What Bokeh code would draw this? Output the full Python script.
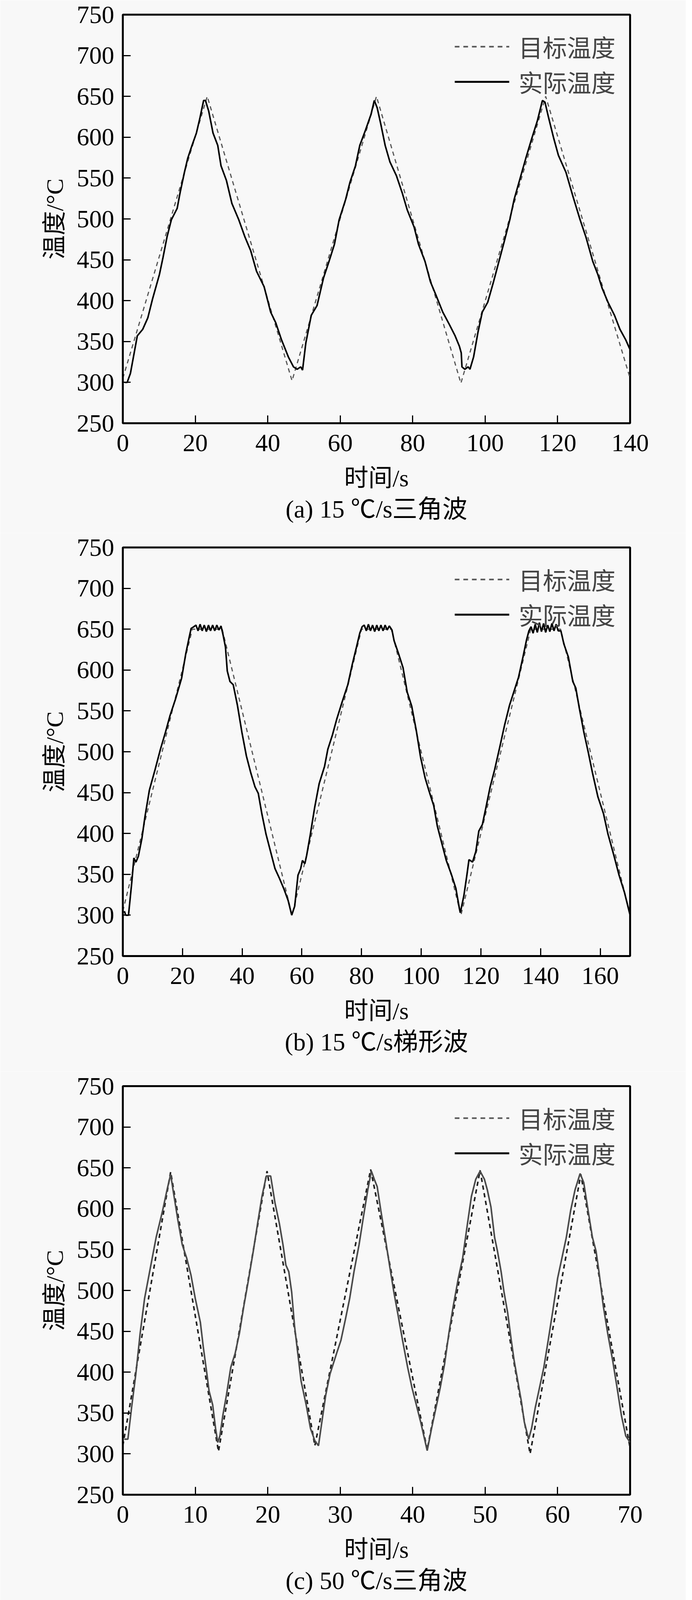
from bokeh.plotting import figure
from bokeh.layouts import column
from bokeh.models import Range1d, FixedTicker, Legend, LegendItem, Title
from bokeh.embed import file_html
from bokeh.resources import INLINE

# ---------------- data ----------------
y_ticks = [250, 300, 350, 400, 450, 500, 550, 600, 650, 700, 750]
legend_labels = ["目标温度", "实际温度"]
x_title = "时间/s"
y_title = "温度/°C"

# (a) 15 ℃/s triangle
xticks_a = [0, 20, 40, 60, 80, 100, 120, 140]
target_a = [(0, 305), (23.3, 650), (46.7, 302), (70.0, 650), (93.3, 299), (116.7, 650), (140, 305)]
actual_a = [(0.5, 300), (1.2, 300), (2.1, 311), (4.0, 357), (5.5, 365), (6.9, 379), (8.2, 402),
            (10.1, 432), (11.1, 453), (12.2, 478), (13.4, 499), (15.0, 513), (15.8, 532), (17.0, 557),
            (17.9, 574), (19.1, 590), (20.3, 605), (21.3, 624), (22.3, 645), (22.8, 645), (23.7, 632),
            (24.9, 605), (26.2, 590), (27.1, 565), (28.6, 547), (30.1, 519), (32.0, 499), (33.7, 478),
            (35.3, 461), (36.9, 436), (39.0, 417), (40.8, 386), (42.2, 373), (43.8, 352), (45.7, 331),
            (47.1, 319), (48.1, 316), (49.1, 319), (49.6, 315), (50.5, 348), (52.0, 382), (53.6, 394),
            (55.4, 428), (56.9, 448), (58.4, 469), (59.7, 499), (61.5, 524), (62.7, 545), (64.2, 565),
            (65.4, 590), (67.0, 609), (68.5, 628), (69.4, 645), (70.2, 636), (71.2, 616), (72.4, 590),
            (73.7, 570), (75.5, 553), (77.1, 532), (78.5, 511), (80.4, 490), (81.6, 469), (83.4, 448),
            (84.9, 423), (86.4, 407), (88.3, 386), (90.1, 371), (91.7, 357), (92.9, 344), (93.4, 336),
            (93.6, 319), (94.4, 316), (95.3, 319), (95.8, 316), (96.8, 331), (98.0, 361), (99.2, 386),
            (100.7, 398), (102.3, 423), (103.8, 448), (105.3, 473), (106.8, 499), (108.0, 524),
            (109.6, 549), (111.2, 574), (112.9, 599), (114.4, 620), (115.8, 645), (116.5, 643),
            (117.5, 624), (118.9, 599), (120.2, 578), (122.3, 557), (124.2, 528), (126.2, 499),
            (127.8, 478), (129.7, 448), (131.1, 432), (132.3, 415), (133.9, 398), (135.7, 382),
            (137.2, 365), (138.8, 352), (140.0, 340)]

# (b) 15 ℃/s trapezoid
xticks_b = [0, 20, 40, 60, 80, 100, 120, 140, 160]
target_b = [(0, 305), (23.3, 650), (33.3, 650), (56.7, 300), (80.0, 650), (90.0, 650),
            (113.3, 300), (136.7, 650), (146.7, 650), (170, 300)]
actual_b = [(0.5, 305), (1.0, 300), (1.9, 300), (3.0, 340), (3.7, 370), (4.4, 365), (5.2, 372),
            (6.4, 394), (7.4, 420), (8.9, 453), (10.8, 478), (12.6, 503), (14.3, 524), (15.8, 544),
            (17.7, 565), (19.7, 590), (21.1, 620), (22.3, 641), (22.9, 651), (23.8, 653), (24.5, 655),
            (25.2, 648), (25.9, 656), (26.6, 648), (27.3, 655), (28.0, 647), (28.7, 655), (29.4, 648),
            (30.1, 655), (30.8, 648), (31.5, 655), (32.2, 649), (32.9, 654), (33.6, 643), (34.4, 628),
            (35.0, 599), (35.9, 586), (37.0, 582), (38.4, 557), (39.9, 524), (41.4, 495), (42.9, 474),
            (44.3, 457), (45.4, 449), (46.6, 424), (48.0, 399), (49.5, 378), (51.0, 357), (52.5, 345),
            (54.0, 332), (55.4, 318), (56.6, 300), (57.6, 311), (58.7, 349), (59.6, 357), (60.2, 367),
            (61.0, 363), (61.6, 373), (62.8, 398), (64.3, 432), (65.8, 461), (67.6, 482), (68.7, 503),
            (70.2, 520), (71.7, 540), (73.5, 561), (75.4, 582), (76.9, 607), (78.3, 628), (79.4, 645),
            (80.2, 653), (80.9, 655), (81.6, 648), (82.3, 656), (83.0, 648), (83.7, 655), (84.4, 647),
            (85.1, 655), (85.8, 648), (86.5, 655), (87.2, 648), (87.9, 655), (88.6, 649), (89.3, 654),
            (90.2, 649), (90.9, 636), (92.4, 620), (93.9, 603), (95.3, 573), (96.8, 556), (98.3, 527),
            (99.8, 493), (101.3, 468), (102.7, 451), (104.2, 434), (105.4, 409), (106.9, 388),
            (108.4, 367), (110.1, 350), (111.6, 333), (112.8, 308), (113.1, 303), (114.3, 324),
            (115.3, 349), (116.0, 368), (117.2, 365), (118.3, 378), (119.3, 403), (120.5, 411),
            (121.7, 432), (123.1, 457), (124.6, 478), (126.4, 507), (127.9, 532), (129.6, 557),
            (131.1, 574), (132.6, 591), (134.1, 616), (135.3, 637), (136.1, 648), (136.8, 653),
            (137.5, 645), (138.2, 656), (138.9, 646), (139.6, 658), (140.3, 647), (141.0, 657),
            (141.7, 646), (142.4, 655), (143.1, 647), (143.8, 657), (144.5, 648), (145.2, 656),
            (145.9, 648), (146.8, 648), (147.8, 632), (149.3, 616), (150.8, 586), (151.8, 578),
            (153.0, 553), (154.5, 524), (156.0, 499), (157.4, 474), (159.2, 445), (161.1, 424),
            (162.6, 399), (164.5, 374), (166.3, 349), (168.1, 328), (170.0, 300)]

# (c) 50 ℃/s triangle
xticks_c = [0, 10, 20, 30, 40, 50, 60, 70]
target_c = [(0, 310), (6.6, 645), (13.2, 303), (19.9, 646), (26.5, 310), (34.2, 648), (42.0, 305),
            (49.3, 647), (56.2, 300), (63.2, 642), (70, 307)]
actual_c = [(0.2, 318), (0.7, 318), (1.2, 356), (1.8, 398), (2.4, 448), (3.0, 490), (3.7, 523),
            (4.6, 565), (5.5, 598), (6.1, 623), (6.6, 642), (7.0, 619), (7.6, 586), (8.2, 556),
            (8.8, 540), (9.4, 519), (10.0, 490), (10.7, 461), (11.1, 431), (11.6, 398), (11.9, 377),
            (12.4, 360), (12.8, 331), (13.1, 314), (13.4, 322), (13.8, 347), (14.3, 372), (14.9, 406),
            (15.5, 423), (16.1, 448), (16.7, 481), (17.3, 511), (18.0, 548), (18.6, 582), (19.2, 615),
            (19.8, 640), (20.4, 640), (21.0, 607), (21.6, 582), (22.1, 556), (22.5, 531), (22.9, 523),
            (23.3, 498), (23.7, 456), (24.2, 419), (24.6, 389), (25.3, 360), (25.9, 331), (26.5, 316),
            (27.0, 310), (27.4, 335), (28.0, 372), (28.6, 398), (29.5, 423), (30.1, 439), (30.7, 464),
            (31.3, 490), (31.9, 523), (32.6, 556), (33.2, 590), (33.8, 623), (34.3, 646), (34.7, 636),
            (35.1, 627), (35.6, 598), (36.2, 565), (36.8, 531), (37.4, 498), (38.0, 469), (38.6, 439),
            (39.3, 406), (39.9, 381), (40.5, 360), (41.1, 339), (42.0, 304), (42.6, 331), (43.2, 356),
            (43.8, 381), (44.4, 410), (45.0, 448), (45.6, 481), (46.3, 515), (46.9, 540), (47.5, 578),
            (48.1, 615), (48.7, 636), (49.3, 646), (49.9, 636), (50.3, 623), (50.8, 602), (51.3, 565),
            (51.7, 548), (52.2, 523), (52.6, 498), (53.1, 473), (53.6, 439), (54.0, 414), (54.5, 389),
            (55.0, 364), (55.4, 339), (56.0, 318), (56.4, 331), (56.9, 356), (57.5, 381), (58.1, 406),
            (58.7, 439), (59.3, 473), (60.0, 515), (60.6, 540), (61.2, 565), (61.8, 598), (62.4, 623),
            (63.1, 643), (63.6, 632), (64.2, 598), (64.8, 565), (65.3, 548), (65.7, 523), (66.3, 481),
            (66.9, 448), (67.6, 414), (68.2, 381), (68.8, 347), (69.4, 322), (70.0, 314)]

# (d) 100 ℃/s triangle
xticks_d = [0, 5, 10, 15, 20, 25, 30, 35, 40, 45, 50]
target_d = [(0, 300), (3.0, 648), (6.6, 302), (10.2, 650), (13.7, 302), (17.5, 650), (20.9, 302),
            (24.6, 648), (28.0, 302), (31.6, 648), (35.2, 300), (38.8, 650), (42.4, 300), (46.0, 648),
            (50, 303)]
actual_d = [(0, 303), (0.3, 330), (0.8, 400), (1.2, 460), (1.8, 525), (2.3, 555), (2.8, 590),
            (3.3, 630), (3.6, 657), (4.0, 610), (4.4, 540), (4.8, 480), (5.2, 430), (5.6, 400),
            (6.0, 370), (6.5, 335), (7.0, 310), (7.3, 301), (7.6, 330), (8.0, 390), (8.5, 460),
            (9.0, 520), (9.5, 570), (10.0, 620), (10.4, 652), (10.7, 645), (11.1, 615), (11.4, 560),
            (11.8, 500), (12.2, 450), (12.6, 410), (13.0, 380), (13.5, 350), (14.0, 320), (14.5, 305),
            (14.8, 330), (15.1, 360), (15.5, 430), (16.0, 490), (16.5, 540), (17.0, 590), (17.4, 625),
            (17.8, 654), (18.1, 640), (18.5, 590), (18.9, 520), (19.3, 460), (19.7, 410), (20.2, 385),
            (20.6, 355), (21.0, 330), (21.5, 301), (21.9, 340), (22.3, 400), (22.8, 460), (23.3, 520),
            (23.8, 560), (24.3, 600), (24.8, 630), (25.1, 652), (25.5, 610), (25.9, 540), (26.3, 490),
            (26.7, 440), (27.1, 400), (27.6, 365), (28.1, 330), (28.7, 300), (29.1, 340), (29.6, 400),
            (30.1, 460), (30.6, 520), (31.1, 570), (31.6, 610), (32.2, 654), (32.5, 630), (32.9, 560),
            (33.3, 500), (33.7, 450), (34.1, 410), (34.5, 375), (35.0, 340), (35.4, 315), (35.7, 298),
            (36.1, 320), (36.5, 380), (37.0, 450), (37.5, 520), (38.0, 570), (38.5, 610), (39.3, 650),
            (39.6, 640), (40.0, 580), (40.3, 510), (40.7, 460), (41.1, 420), (41.5, 380), (41.9, 350),
            (42.3, 320), (42.8, 298), (43.2, 315), (43.6, 380), (44.0, 440), (44.5, 500), (45.0, 550),
            (45.5, 600), (46.0, 630), (46.4, 651), (46.8, 620), (47.1, 600), (47.4, 530), (47.8, 470),
            (48.2, 430), (48.7, 390), (49.2, 350), (49.6, 330), (50.0, 305)]

captions = ["(a) 15 ℃/s三角波", "(b) 15 ℃/s梯形波", "(c) 50 ℃/s三角波", "(d) 100 ℃/s三角波"]
x_max = [140, 170, 70, 50]

# ---------------- styling ----------------
BG = "#f8f8f8"
SERIF = "Liberation Serif, Noto Sans CJK SC"
CJK = "Noto Sans CJK SC"
W = 1756
B_LEFT, B_RIGHT, FRAME_H = 314, 143, 1046
heights = [1364, 1379, 1379, 1338]
tops = [37, 37, 37, 22]
# (target colour, target width, actual colour, actual width)
line_styles = [("#555555", 3, "black", 4), ("#555555", 3, "black", 4),
               ("#1e1e1e", 4, "#4a4a4a", 4), ("#555555", 3, "black", 4)]


def make_panel(h, top, xmax, xticks, target, actual, caption, style):
    p = figure(width=W, height=h, x_range=Range1d(0, xmax), y_range=Range1d(250, 750),
               output_backend="svg", toolbar_location=None,
               min_border_left=B_LEFT, min_border_right=B_RIGHT, min_border_top=top,
               min_border_bottom=h - top - FRAME_H,
               background_fill_color=BG, border_fill_color=BG)
    p.grid.visible = False
    p.outline_line_color = "black"
    p.outline_line_width = 5
    p.xaxis.ticker = FixedTicker(ticks=xticks)
    p.yaxis.ticker = FixedTicker(ticks=y_ticks)
    for ax in (p.xaxis[0], p.yaxis[0]):
        ax.axis_line_width = 5
        ax.axis_line_color = "black"
        ax.major_tick_in = 20
        ax.major_tick_out = 0
        ax.major_tick_line_width = 3
        ax.major_tick_line_color = "black"
        ax.minor_tick_line_color = None
        ax.major_label_text_font = "Liberation Serif"
        ax.major_label_text_font_size = "64px"
        ax.major_label_text_color = "black"
        ax.axis_label_text_font = SERIF
        ax.axis_label_text_font_size = "62px"
        ax.axis_label_text_font_style = "normal"
        ax.axis_label_text_color = "black"
    p.xaxis.major_label_standoff = 29
    p.yaxis.major_label_standoff = 22
    p.xaxis.axis_label = x_title
    p.yaxis.axis_label = y_title
    p.xaxis.axis_label_standoff = 32
    p.yaxis.axis_label_standoff = 20

    tcol, tw, acol, aw = style
    tx = [a for a, b in target]
    ty = [b for a, b in target]
    axs = [a for a, b in actual]
    ays = [b for a, b in actual]
    r_t = p.line(tx, ty, line_color=tcol, line_width=tw, line_dash="11 9")
    r_a = p.line(axs, ays, line_color=acol, line_width=aw)

    lt = p.line([0], [0], line_color="#555555", line_width=4, line_dash="12 10", visible=False)
    la = p.line([0], [0], line_color="black", line_width=5, visible=False)
    legend = Legend(items=[LegendItem(label=legend_labels[0], renderers=[lt]),
                           LegendItem(label=legend_labels[1], renderers=[la])],
                    location="top_right", border_line_alpha=0, background_fill_alpha=0,
                    label_text_font=CJK, label_text_font_size="62px",
                    glyph_width=140, glyph_height=40, label_standoff=24,
                    spacing=-12, padding=12, margin=25)
    p.add_layout(legend)

    p.add_layout(Title(text=caption, align="center", text_font=SERIF, text_font_size="64px",
                       text_font_style="normal", text_color="black", standoff=11), "below")
    return p


series = [(xticks_a, target_a, actual_a), (xticks_b, target_b, actual_b),
          (xticks_c, target_c, actual_c), (xticks_d, target_d, actual_d)]
panels = [make_panel(heights[i], tops[i], x_max[i], xt, tg, ac, captions[i], line_styles[i])
          for i, (xt, tg, ac) in enumerate(series)]

layout = column(*panels, spacing=0)
open("out.html", "w").write(file_html(layout, INLINE))
